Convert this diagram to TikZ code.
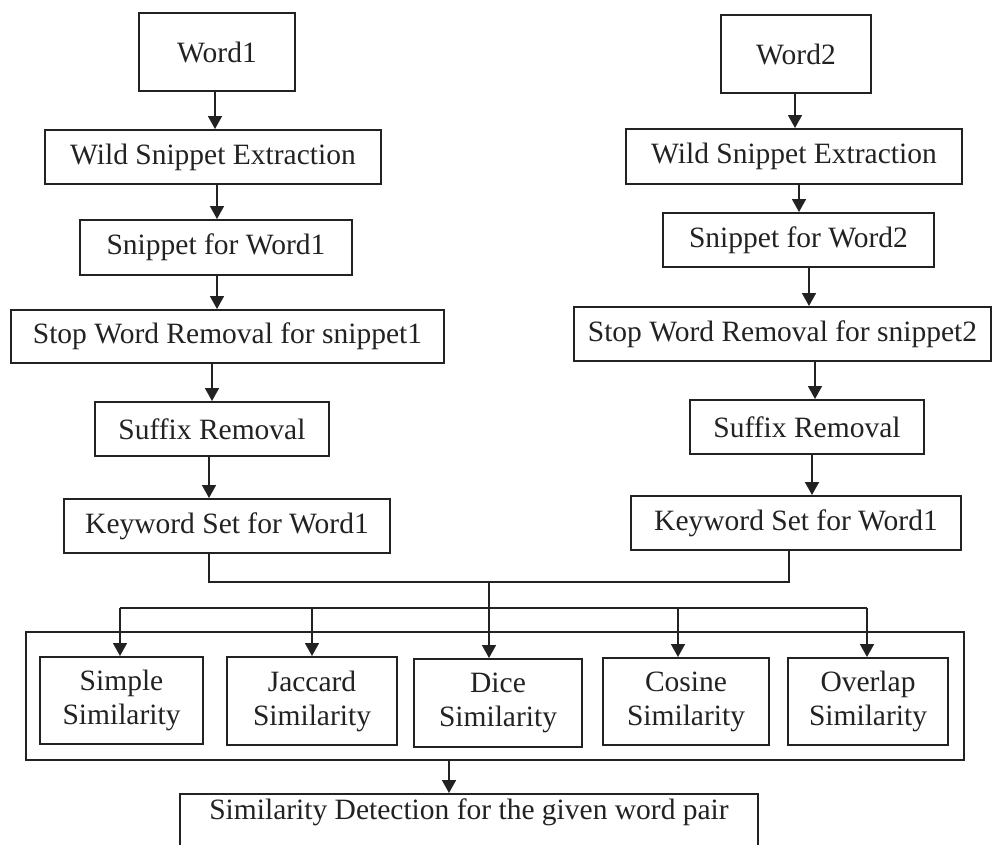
\documentclass[tikz,border=0pt]{standalone}
\usepackage{fontspec}
\setmainfont{Liberation Serif}
\usetikzlibrary{arrows.meta}
\definecolor{ink}{HTML}{222222}
\begin{document}
\begin{tikzpicture}[x=1pt,y=-1pt,
  box/.style={draw=ink,line width=2pt,inner sep=0pt,text=ink,font=\fontsize{29.5}{34}\selectfont,align=center},
  arr/.style={draw=ink,line width=1.6pt,-{Triangle[width=14pt,length=13pt]}},
  ln/.style={draw=ink,line width=1.6pt}]
\clip (0,0) rectangle (993,844);
\fill[white] (0,0) rectangle (993,844);
% left column
\node[box,minimum width=156pt,minimum height=78pt] (w1) at (217,52) {Word1};
\node[box,minimum width=336pt,minimum height=54pt] (wse1) at (213,157) {Wild Snippet Extraction};
\node[box,minimum width=272pt,minimum height=55pt] (sn1) at (216,247.5) {Snippet for Word1};
\node[box,minimum width=433pt,minimum height=53pt] (sw1) at (227.5,336.5) {Stop Word Removal for snippet1};
\node[box,minimum width=234pt,minimum height=54pt] (sr1) at (212,429) {Suffix Removal};
\node[box,minimum width=326pt,minimum height=54pt] (ks1) at (227,526) {Keyword Set for Word1};
% right column
\node[box,minimum width=150pt,minimum height=78pt] (w2) at (796,54) {Word2};
\node[box,minimum width=336pt,minimum height=55pt] (wse2) at (794,156.5) {Wild Snippet Extraction};
\node[box,minimum width=271pt,minimum height=54pt] (sn2) at (798.5,240) {Snippet for Word2};
\node[box,minimum width=417pt,minimum height=54pt] (sw2) at (782.5,334) {Stop Word Removal for snippet2};
\node[box,minimum width=234pt,minimum height=54pt] (sr2) at (807,427) {Suffix Removal};
\node[box,minimum width=330pt,minimum height=54pt] (ks2) at (796,523) {Keyword Set for Word1};
% similarity group
\node[box,minimum width=938pt,minimum height=128pt] (outer) at (495,696) {};
\node[box,minimum width=163pt,minimum height=87pt] (simple) at (121.5,700.5) {Simple\\Similarity};
\node[box,minimum width=170pt,minimum height=88pt] (jac) at (312,701) {Jaccard\\Similarity};
\node[box,minimum width=168pt,minimum height=88pt] (dice) at (498,703) {Dice\\Similarity};
\node[box,minimum width=166pt,minimum height=87pt] (cos) at (686,701.5) {Cosine\\Similarity};
\node[box,minimum width=160pt,minimum height=87pt] (ovl) at (868,701.5) {Overlap\\Similarity};
\node[box,minimum width=578pt,minimum height=72pt,anchor=north] (fin) at (469,793) {\raisebox{0pt}[0pt][0pt]{\raisebox{11pt}{Similarity Detection for the given word pair}}};
% left arrows
\draw[arr] (w1.south -| 215,0) -- (wse1.north -| 215,0);
\draw[arr] (wse1.south -| 217,0) -- (sn1.north -| 217,0);
\draw[arr] (sn1.south -| 217,0) -- (sw1.north -| 217,0);
\draw[arr] (sw1.south -| 212,0) -- (sr1.north -| 212,0);
\draw[arr] (sr1.south -| 209,0) -- (ks1.north -| 209,0);
% right arrows
\draw[arr] (w2.south -| 795,0) -- (wse2.north -| 795,0);
\draw[arr] (wse2.south -| 799,0) -- (sn2.north -| 799,0);
\draw[arr] (sn2.south -| 809,0) -- (sw2.north -| 809,0);
\draw[arr] (sw2.south -| 815,0) -- (sr2.north -| 815,0);
\draw[arr] (sr2.south -| 812,0) -- (ks2.north -| 812,0);
% merge
\coordinate (m1) at (209,582);
\coordinate (m2) at (789,582);
\coordinate (mid) at (489,582);
\coordinate (d1) at (120,608);
\coordinate (d2) at (312,608);
\coordinate (d4) at (678,608);
\coordinate (d5) at (867,608);
\draw[ln] (ks1.south -| m1) -- (m1) -- (m2) -- (ks2.south -| m2);
\draw[ln] (d1) -- (d5);
\draw[arr] (mid) -- (dice.north -| mid);
\draw[arr] (d1) -- (simple.north -| d1);
\draw[arr] (d2) -- (jac.north -| d2);
\draw[arr] (d4) -- (cos.north -| d4);
\draw[arr] (d5) -- (ovl.north -| d5);
\draw[arr] (outer.south -| 449,0) -- (fin.north -| 449,0);
\end{tikzpicture}
\end{document}
